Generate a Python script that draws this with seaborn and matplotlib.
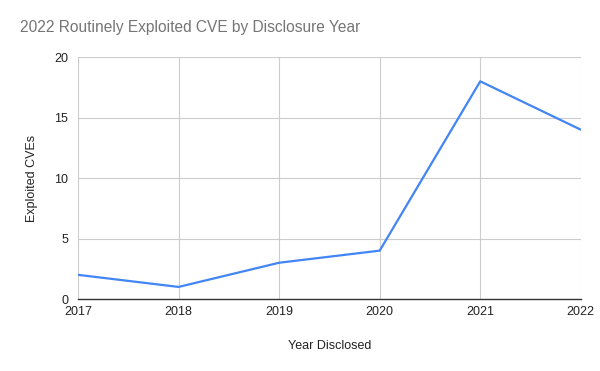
import matplotlib
matplotlib.use("Agg")
import matplotlib.pyplot as plt
import seaborn as sns
import pandas as pd

# Data
years = [2017, 2018, 2019, 2020, 2021, 2022]
exploited = [2, 1, 3, 4, 18, 14]

df = pd.DataFrame({"year": years, "count": exploited})

sns.set_style("white")
plt.rcParams["font.family"] = ["Liberation Sans", "DejaVu Sans"]

fig = plt.figure(figsize=(6, 3.71), dpi=100)
ax = fig.add_axes([0.13, 0.194, 0.838, 0.652])

sns.lineplot(data=df, x="year", y="count", ax=ax, color="#4285F4", linewidth=1.6)

ax.set_xlim(2017, 2022)
ax.set_ylim(0, 20)
ax.set_xticks(years)
ax.set_xticklabels([str(y) for y in years])
ax.set_yticks([0, 5, 10, 15, 20])
ax.grid(True, color="#cccccc", linewidth=0.8)
ax.set_axisbelow(True)

for side in ["top", "right", "left"]:
    ax.spines[side].set_visible(False)
ax.spines["bottom"].set_color("#333333")
ax.spines["bottom"].set_linewidth(1)

ax.tick_params(axis="both", length=0, labelsize=9, colors="#222222")
ax.tick_params(axis="x", pad=5)
ax.tick_params(axis="y", pad=7)

ax.set_xlabel("Year Disclosed", fontsize=9, color="#222222", labelpad=16)
ax.set_ylabel("Exploited CVEs", fontsize=9, color="#222222", labelpad=12)

fig.text(0.033, 0.925, "2022 Routinely Exploited CVE by Disclosure Year",
         fontsize=11.2, color="#757575", ha="left", va="center")

fig.savefig("out.png", dpi=100)
